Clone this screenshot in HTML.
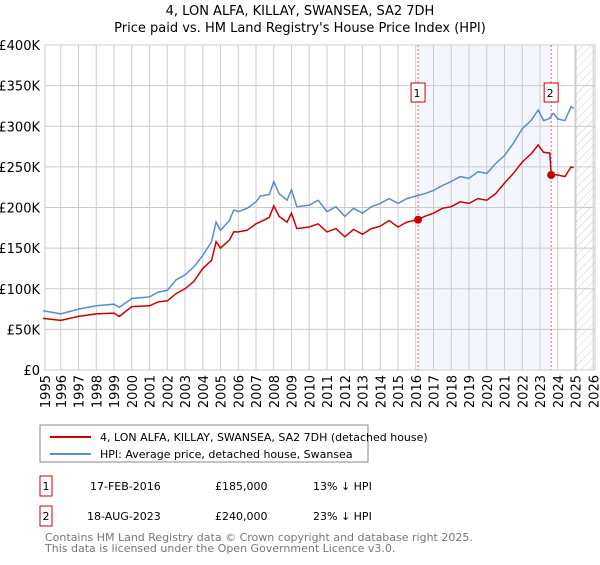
<!DOCTYPE html>
<html><head><meta charset="utf-8"><style>
body{margin:0;background:#fff;font-family:"Liberation Sans",sans-serif;}
svg text{font-family:"DejaVu Sans","Liberation Sans",sans-serif;}
</style></head><body>
<svg id="chart" width="600" height="560" xmlns="http://www.w3.org/2000/svg">
<defs><pattern id="hatch" width="6" height="6" patternUnits="userSpaceOnUse" patternTransform="rotate(45)"><line x1="0" y1="0" x2="0" y2="6" stroke="#ccc" stroke-width="1"/></pattern></defs>
<text x="300" y="15" text-anchor="middle" font-size="13">4, LON ALFA, KILLAY, SWANSEA, SA2 7DH</text>
<text x="300" y="32" text-anchor="middle" font-size="13">Price paid vs. HM Land Registry's House Price Index (HPI)</text>
<g id="grid"></g><g id="marks"></g><g id="axes"></g>
<rect x="40" y="425" width="328" height="37" fill="#fff" stroke="#888"/>
<line x1="50" y1="437" x2="91" y2="437" stroke="#cc0000" stroke-width="2"/>
<text x="100" y="441" font-size="11">4, LON ALFA, KILLAY, SWANSEA, SA2 7DH (detached house)</text>
<line x1="50" y1="454" x2="91" y2="454" stroke="#5b8bd0" stroke-width="2"/>
<text x="100" y="458" font-size="11">HPI: Average price, detached house, Swansea</text>
<g font-size="11">
<rect x="40" y="476" width="12" height="20" fill="none" stroke="#cc0000"/>
<text x="46" y="490" text-anchor="middle">1</text>
<text x="90" y="490">17-FEB-2016</text><text x="215" y="490">£185,000</text><text x="313" y="490">13% ↓ HPI</text>
<rect x="40" y="506" width="12" height="20" fill="none" stroke="#cc0000"/>
<text x="46" y="520" text-anchor="middle">2</text>
<text x="87" y="520">18-AUG-2023</text><text x="215" y="520">£240,000</text><text x="313" y="520">23% ↓ HPI</text>
</g>
<text x="45" y="541" font-size="11" fill="#777">Contains HM Land Registry data © Crown copyright and database right 2025.</text>
<text x="45" y="552" font-size="11" fill="#777">This data is licensed under the Open Government Licence v3.0.</text>
</svg>
<script>
const hpiYears=[1995,1996,1997,1998,1999,1999.3,2000,2001,2001.5,2002,2002.5,2003,2003.5,2004,2004.5,2004.75,2005,2005.5,2005.75,2006,2006.5,2007,2007.25,2007.75,2008,2008.3,2008.75,2009,2009.3,2010,2010.5,2011,2011.5,2012,2012.5,2013,2013.5,2014,2014.5,2015,2015.5,2016,2016.5,2017,2017.5,2018,2018.5,2019,2019.5,2020,2020.5,2021,2021.5,2022,2022.5,2022.9,2023.2,2023.5,2023.75,2024,2024.4,2024.75,2024.9];
const hpiValues=[73,69,75,79,81,77,88,90,96,98,111,117,127,141,158,182,172,184,197,195,199,207,214,216,232,217,209,222,201,203,209,195,201,189,199,193,201,205,211,205,211,214,217,221,227,232,238,236,244,242,254,264,279,297,307,320,307,309,316,309,307,324,322];
const propYears=[1995,1996,1997,1998,1999,1999.3,2000,2001,2001.5,2002,2002.5,2003,2003.5,2004,2004.5,2004.75,2005,2005.5,2005.75,2006,2006.5,2007,2007.5,2007.75,2008,2008.3,2008.75,2009,2009.3,2010,2010.5,2011,2011.5,2012,2012.5,2013,2013.5,2014,2014.5,2015,2015.5,2016.13,2016.5,2017,2017.5,2018,2018.5,2019,2019.5,2020,2020.5,2021,2021.5,2022,2022.5,2022.9,2023.2,2023.55,2023.63,2024,2024.4,2024.75,2024.9];
const propValues=[63.5,61,66,69,70,66,78,79,84,85,94,100,109,125,135,158,150,160,170,170,172,180,185,188,202,189,182,193,174,176,180,170,174,164,173,167,174,177,184,176,182,185,189,193,199,201,207,205,211,209,217,230,242,256,266,277,268,267,241,240,238,250,249];
const saleYears=[2016.13,2023.63];
const saleValues=[185,240];
const saleLabels=["1","2"];
const yTicks=[0,50,100,150,200,250,300,350,400];
const yTickLabels=["£0","£50K","£100K","£150K","£200K","£250K","£300K","£350K","£400K"];
const xTicks=[1995,1996,1997,1998,1999,2000,2001,2002,2003,2004,2005,2006,2007,2008,2009,2010,2011,2012,2013,2014,2015,2016,2017,2018,2019,2020,2021,2022,2023,2024,2025,2026];

const NS="http://www.w3.org/2000/svg";
const L=45,R=595,T=45,B=370;
const X=y=>43+(y-1995)*17.75;
const Y=v=>B-v*(B-T)/400;
function mk(p,tag,a){const e=document.createElementNS(NS,tag);for(const k in a)e.setAttribute(k,a[k]);p.appendChild(e);return e;}
const grid=document.getElementById('grid'),marks=document.getElementById('marks'),axes=document.getElementById('axes');
// shaded region and hatch
let sh=mk(grid,'rect',{x:X(saleYears[0]),y:T,width:X(saleYears[1])-X(saleYears[0]),height:B-T,fill:'#eef3fc',opacity:0.7});


let ht=mk(grid,'rect',{x:X(2025),y:T,width:R-X(2025),height:B-T,fill:'url(#hatch)'});


mk(grid,'line',{x1:X(2025),y1:T,x2:X(2025),y2:B,stroke:'#999','stroke-width':1.5});
yTicks.forEach((v,i)=>{
 mk(grid,'line',{x1:L,y1:Y(v),x2:R,y2:Y(v),stroke:'#ccc'});
 const t=mk(axes,'text',{x:40,y:Y(v)+5,'text-anchor':'end','font-size':13});
 t.textContent=yTickLabels[i];
 
 
});
xTicks.forEach(y=>{
 const x=Math.max(L,Math.min(R,X(y)));
 mk(grid,'line',{x1:x,y1:T,x2:x,y2:B,stroke:'#ccc'});
 const t=mk(axes,'text',{x:0,y:0,'text-anchor':'end','font-size':13,transform:`translate(${x+5},375) rotate(-90)`});
 t.textContent=y;
 
 
});
mk(grid,'rect',{x:L,y:T,width:R-L,height:B-T,fill:'none',stroke:'#ccc'});
saleYears.forEach((y,i)=>{
 const l=mk(marks,'line',{x1:X(y),y1:T,x2:X(y),y2:B,stroke:'#e66','stroke-dasharray':'2,2'});
 
 
 const b=mk(marks,'rect',{x:X(y)-7,y:83,width:14,height:19,fill:'#fff',stroke:'#cc0000'});
 
 
 const t=mk(marks,'text',{x:X(y)-1,y:97,'text-anchor':'middle','font-size':11});
 t.textContent=saleLabels[i];
});
const path=(xs,vs)=>xs.map((x,i)=>(i?'L':'M')+X(x).toFixed(1)+','+Y(vs[i]).toFixed(1)).join('');
const hp=mk(marks,'path',{d:path(hpiYears,hpiValues),fill:'none',stroke:'#5b8bd0','stroke-width':1.5});


const pp=mk(marks,'path',{d:path(propYears,propValues),fill:'none',stroke:'#cc0000','stroke-width':1.5});


saleYears.forEach((y,i)=>{
 const c=mk(marks,'circle',{cx:X(y),cy:Y(saleValues[i]),r:4,fill:'#cc0000'});
 
 
});
</script>
</body></html>
